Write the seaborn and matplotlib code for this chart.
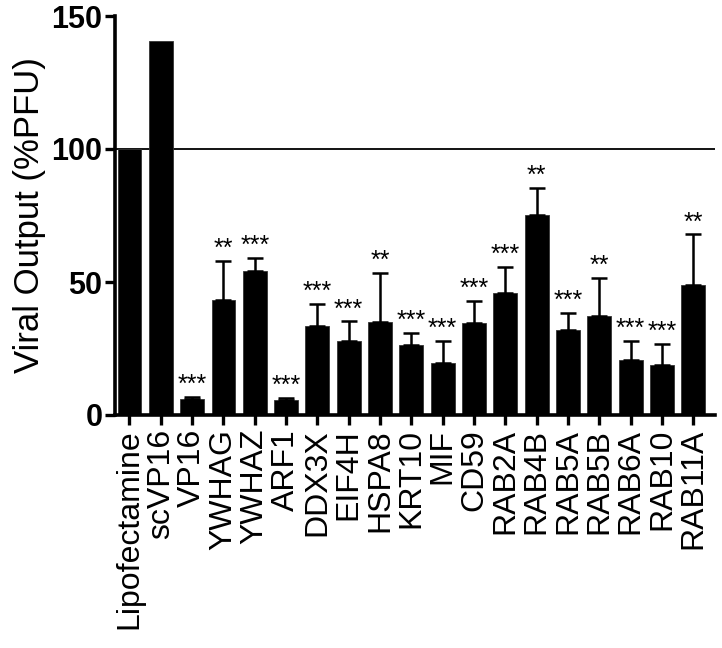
import pandas as pd
import numpy as np
import seaborn as sns
import matplotlib.pyplot as plt


# values
genes = ['Lipofectamine', 'scVP16', 'VP16', 'YWHAG', 'YWHAZ', 'ARF1', 'DDX3X', 'EIF4H',
         'HSPA8', 'KRT10', 'MIF', 'CD59', 'RAB2A', 'RAB4B', 'RAB5A', 'RAB5B', 'RAB6A',
         'RAB10', 'RAB11A']
viral_output = [100, 140.5, 5.9, 43.3, 54.3, 5.7, 33.3, 27.9, 34.8, 26.3, 19.7, 34.6,
                45.8, 75.2, 32.1, 37.1, 20.6, 18.8, 48.8]
err_upper = [0, 0, 1.0, 14.6, 4.8, 0.7, 8.6, 7.3, 18.7, 4.6, 8.0, 8.4,
             9.8, 10.3, 6.3, 14.5, 7.1, 8.0, 19.1]
stars = ['', '', '***', '**', '***', '***', '***', '***', '**', '***', '***', '***',
         '***', '**', '***', '**', '***', '***', '**']


def plot_viral_output():
    df = pd.DataFrame({'gene': genes, 'pfu': viral_output, 'err': err_upper, 'sig': stars})

    sns.set_style('ticks')
    plt.rcParams['font.family'] = ['Liberation Sans', 'DejaVu Sans']
    plt.rcParams.update({'text.color': 'black', 'axes.labelcolor': 'black',
                         'xtick.color': 'black', 'ytick.color': 'black',
                         'axes.edgecolor': 'black'})

    fig, ax = plt.subplots(figsize=(7.22, 6.48), dpi=100)
    plt.subplots_adjust(left=115 / 722, right=715 / 722, top=1 - 16 / 648, bottom=1 - 415 / 648)

    sns.barplot(data=df, x='gene', y='pfu', color='black', width=0.76,
                edgecolor='#333333', linewidth=0.6, saturation=1, ax=ax)

    x = np.arange(len(df))
    has_err = df.err > 0
    ax.errorbar(x[has_err], df.pfu[has_err],
                yerr=[np.zeros(has_err.sum()), df.err[has_err]],
                fmt='none', ecolor='black', elinewidth=1.8, capsize=5.5, capthick=1.8)

    # significance stars above each bar
    for i, row in df.iterrows():
        if row.sig:
            ax.annotate(row.sig, (i, row.pfu + row.err), xytext=(0, 0), textcoords='offset points',
                        ha='center', va='bottom', fontsize=18)

    ax.axhline(100, color='black', lw=1.3, zorder=0)

    ax.set_ylim(0, 150)
    ax.set_xlim(-0.46, len(df) - 0.31)
    ax.set_yticks([0, 50, 100, 150])
    ax.set_xlabel('')
    ax.set_ylabel('Viral Output (%PFU)', fontsize=25, labelpad=4)
    ax.tick_params(axis='y', labelsize=22, width=2.4, length=7, direction='out', pad=2)
    ax.tick_params(axis='x', labelsize=23, width=2.4, length=7, direction='out', rotation=90, pad=3)
    for lab in ax.get_yticklabels():
        lab.set_fontweight('bold')

    sns.despine(ax=ax)
    for s in ['left', 'bottom']:
        ax.spines[s].set_linewidth(2.6)

    fig.savefig('out.png', dpi=100)
    plt.close()


if __name__ == '__main__':
    plot_viral_output()
